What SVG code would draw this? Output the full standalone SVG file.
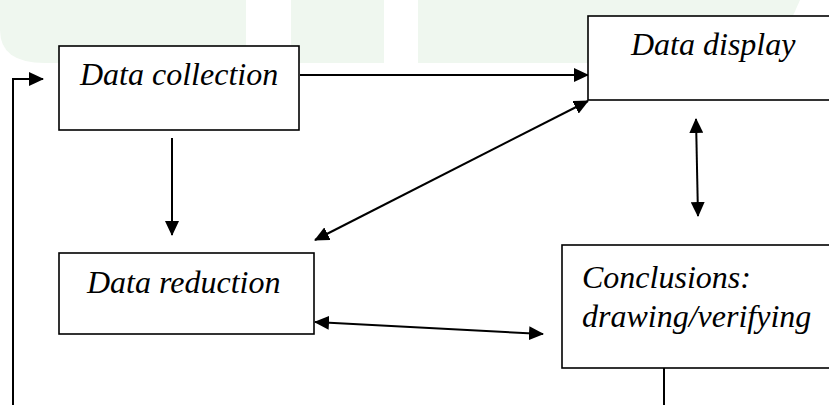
<svg xmlns="http://www.w3.org/2000/svg" width="829" height="405" viewBox="0 0 829 405">
<style>
.box{fill:#fff;stroke:#000;stroke-width:1.6}
.lbl{font-family:"Liberation Serif","Times New Roman",serif;font-style:italic;font-size:32px;fill:#000}
.con{fill:none;stroke:#000;stroke-width:2}
.gr{fill:#eff7ef}
</style>
<defs>
<marker id="ah" markerUnits="userSpaceOnUse" markerWidth="15" markerHeight="14" refX="14" refY="7" orient="auto-start-reverse" viewBox="0 0 15 14">
<path d="M0,0 L15,7 L0,14 Z" fill="#000"/>
</marker>
</defs>
<rect width="829" height="405" fill="#fff"/>
<g id="background">
<path class="gr" d="M0,0 H246 V63 H45 Q0,63 0,30 Z"/>
<rect class="gr" x="291" y="0" width="93" height="63"/>
<path class="gr" d="M418,0 H800 L772,63 H418 Z"/>
</g>
<g id="connectors">
<polyline class="con" points="13,405 13,79 43,79" marker-end="url(#ah)" stroke-width="1.6"/>
<line class="con" x1="300" y1="75" x2="588" y2="75" marker-end="url(#ah)"/>
<line class="con" x1="172" y1="138" x2="172" y2="235" marker-end="url(#ah)"/>
<line class="con" x1="315" y1="240" x2="588" y2="101" marker-start="url(#ah)" marker-end="url(#ah)"/>
<line class="con" x1="696" y1="119" x2="698" y2="216" marker-start="url(#ah)" marker-end="url(#ah)"/>
<line class="con" x1="315" y1="322" x2="543" y2="334" marker-start="url(#ah)" marker-end="url(#ah)"/>
<line class="con" x1="664" y1="368" x2="664" y2="405" stroke-width="1.6"/>
</g>
<g id="data-collection">
<rect class="box" x="59" y="46" width="240" height="84"/>
<text class="lbl" x="80" y="85">Data collection</text>
</g>
<g id="data-display">
<rect class="box" x="588" y="16" width="260" height="84"/>
<text class="lbl" x="631" y="55">Data display</text>
</g>
<g id="data-reduction">
<rect class="box" x="59" y="253" width="255" height="81"/>
<text class="lbl" x="87" y="293">Data reduction</text>
</g>
<g id="conclusions">
<rect class="box" x="562" y="245" width="280" height="123"/>
<text class="lbl" x="582" y="288">Conclusions:</text>
<text class="lbl" x="582" y="327">drawing/verifying</text>
</g>
</svg>
